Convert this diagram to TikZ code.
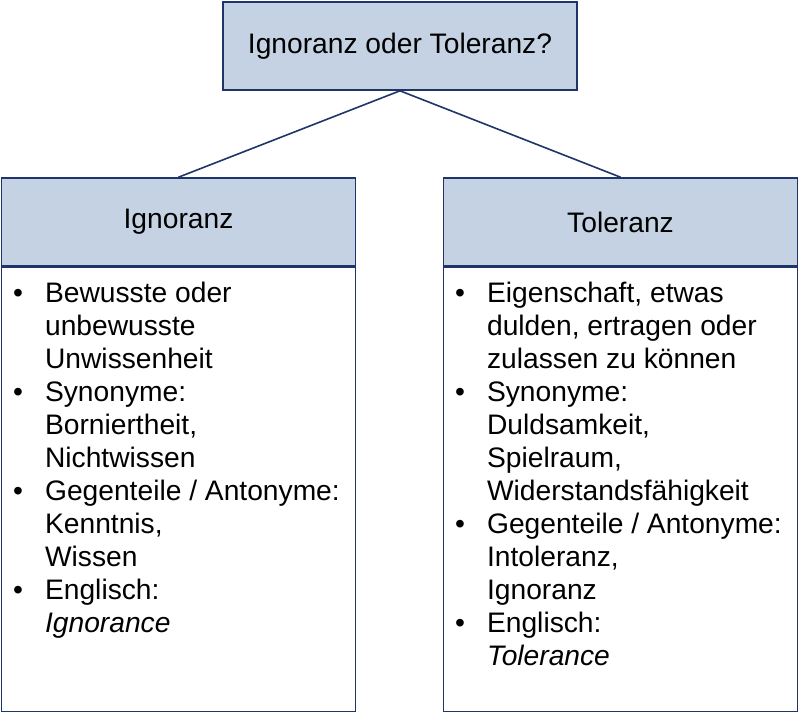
\documentclass[tikz,border=0pt]{standalone}
\usepackage{fontspec}
\setmainfont{Liberation Sans}
\usetikzlibrary{positioning}
\definecolor{headfill}{RGB}{197,210,227}
\definecolor{frame}{RGB}{31,52,104}
\begin{document}
\begin{tikzpicture}[x=0.5pt,y=-0.5pt,font=\fontsize{14.1}{16.5}\selectfont]
    \tikzstyle{head}=[draw=frame,fill=headfill,thick,minimum width=177pt,minimum height=44pt,inner sep=0pt]
    \tikzstyle{body}=[draw=frame,thick,minimum width=177pt,minimum height=222pt,inner sep=0pt]
    \tikzstyle{items}=[anchor=north west,inner sep=0pt,align=left]
    \useasboundingbox (0,0) rectangle (800,712);

    % title and the two headers
    \node[head] (Q) at (400,46) {Ignoranz oder Toleranz?};
    \node[head] (I) at (178.5,222) {Ignoranz};
    \node[head] (T) at (620.5,222) {Toleranz};

    % bodies below the headers
    \node[body,below=0pt of I] (IB) {};
    \node[body,below=0pt of T] (TB) {};

    \draw[frame,thick] (Q.south) -- (I.north);
    \draw[frame,thick] (Q.south) -- (T.north);

    % bullet lists
    \node[items] (IL) at ([xshift=6pt,yshift=-6pt]IB.north west) {%
      \begin{tabular}{@{}p{16pt}@{}l@{}}
        \textbullet & Bewusste oder\\ & unbewusste\\ & Unwissenheit\\
        \textbullet & Synonyme:\\ & Borniertheit,\\ & Nichtwissen\\
        \textbullet & Gegenteile / Antonyme:\\ & Kenntnis,\\ & Wissen\\
        \textbullet & Englisch:\\ & \textit{Ignorance}
      \end{tabular}};
    \node[items] (TL) at ([xshift=6pt,yshift=-6pt]TB.north west) {%
      \begin{tabular}{@{}p{16pt}@{}l@{}}
        \textbullet & Eigenschaft, etwas\\ & dulden, ertragen oder\\ & zulassen zu können\\
        \textbullet & Synonyme:\\ & Duldsamkeit,\\ & Spielraum,\\ & Widerstandsfähigkeit\\
        \textbullet & Gegenteile / Antonyme:\\ & Intoleranz,\\ & Ignoranz\\
        \textbullet & Englisch:\\ & \textit{Tolerance}
      \end{tabular}};
\end{tikzpicture}
\end{document}
